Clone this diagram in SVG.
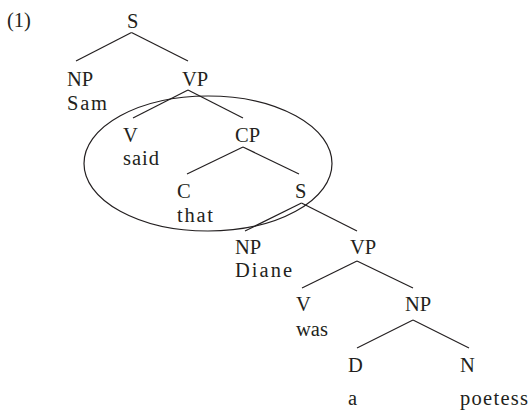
<svg xmlns="http://www.w3.org/2000/svg" width="532" height="413" viewBox="0 0 532 413">
<style>
text{font-family:"Liberation Serif","Times New Roman",serif;font-size:20.5px;fill:#231f20}
.e{stroke:#231f20;stroke-width:1.2;fill:none}
</style>
<rect width="532" height="413" fill="#fff"/>
<text id="label" x="7" y="27">(1)</text>
<g id="connectors" class="e">
<line x1="131.5" y1="32.5" x2="76" y2="61"/>
<line x1="131.5" y1="32.5" x2="188" y2="61"/>
<line x1="188" y1="90" x2="133" y2="118"/>
<line x1="188" y1="90" x2="243" y2="118"/>
<line x1="243" y1="147" x2="187" y2="174"/>
<line x1="243" y1="147" x2="299" y2="174"/>
<line x1="301.5" y1="203" x2="245" y2="231"/>
<line x1="301.5" y1="203" x2="357" y2="231"/>
<line x1="357" y1="261" x2="302" y2="288"/>
<line x1="357" y1="261" x2="413" y2="288"/>
<line x1="413" y1="320" x2="357" y2="348"/>
<line x1="413" y1="320" x2="469" y2="348"/>
</g>
<ellipse id="circle" class="e" cx="208" cy="163.5" rx="124" ry="67.5"/>
<g id="n-S1"><text x="127" y="27.5">S</text></g>
<g id="n-NP1"><text x="67" y="86">NP</text><text x="67" y="110" textLength="40" lengthAdjust="spacing">Sam</text></g>
<g id="n-VP1"><text x="182" y="86">VP</text></g>
<g id="n-V1"><text x="123" y="142">V</text><text x="123" y="165" textLength="36" lengthAdjust="spacing">said</text></g>
<g id="n-CP"><text x="235" y="142">CP</text></g>
<g id="n-C"><text x="177" y="198">C</text><text x="177" y="222" textLength="36" lengthAdjust="spacing">that</text></g>
<g id="n-S2"><text x="295" y="198">S</text></g>
<g id="n-NP2"><text x="235" y="253.5">NP</text><text x="235" y="277" textLength="57" lengthAdjust="spacing">Diane</text></g>
<g id="n-VP2"><text x="350" y="253.5">VP</text></g>
<g id="n-V2"><text x="296" y="311">V</text><text x="296" y="336" textLength="32" lengthAdjust="spacing">was</text></g>
<g id="n-NP3"><text x="405" y="311">NP</text></g>
<g id="n-D"><text x="348" y="371.5">D</text><text x="348" y="404.5">a</text></g>
<g id="n-N"><text x="460" y="371.5">N</text><text x="460" y="404.5" textLength="68" lengthAdjust="spacing">poetess</text></g>
</svg>
